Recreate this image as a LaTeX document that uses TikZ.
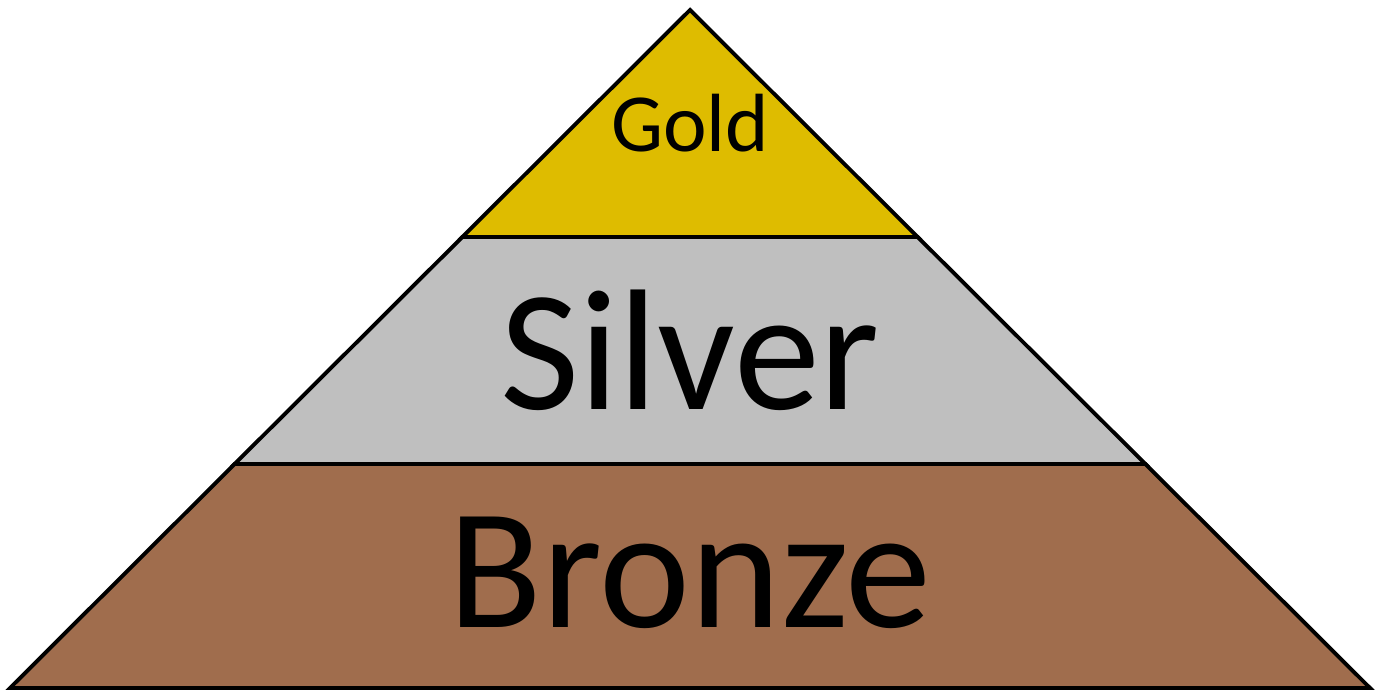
\documentclass[tikz,border=0pt]{standalone}
\usepackage{fontspec}
\setmainfont{Carlito}
\usepackage{xcolor}
\usepackage{tikz}
\usetikzlibrary{calc}
\definecolor{mygold}{RGB}{222,188,0}
\definecolor{mysilver}{RGB}{191,191,191}
\definecolor{mybronze}{RGB}{160,109,77}
\tikzset{
  tier/.style={draw=black, line width=1.1pt, line join=miter},
  biglabel/.style={font=\fontsize{49}{51}\selectfont, anchor=base, inner sep=0pt},
  smalllabel/.style={font=\fontsize{23.5}{25}\selectfont, anchor=base, inner sep=0pt}
}
\begin{document}
\begin{tikzpicture}
  \useasboundingbox (0,0) rectangle (13.8,6.93);
  % Corners of the pyramid
  \coordinate (apex) at (6.90,6.83);
  \coordinate (bl) at (0.10,0.05);
  \coordinate (br) at (13.70,0.05);
  \coordinate (ul) at ($(apex)!0.3348!(bl)$);
  \coordinate (ur) at ($(apex)!0.3348!(br)$);
  \coordinate (ml) at ($(apex)!0.6696!(bl)$);
  \coordinate (mr) at ($(apex)!0.6696!(br)$);

  % Tiers
  \draw[tier, fill=mybronze] (ml) -- (mr) -- (br) -- (bl) -- cycle;
  \draw[tier, fill=mysilver] (ul) -- (ur) -- (mr) -- (ml) -- cycle;
  \draw[tier, fill=mygold] (apex) -- (ur) -- (ul) -- cycle;

  % Labels
  \node[smalllabel] (gold) at (6.90,5.41) {Gold};
  \node[biglabel] (silver) at (6.90,2.83) {Silver};
  \node[biglabel] (bronze) at (6.90,0.65) {Bronze};
\end{tikzpicture}
\end{document}
